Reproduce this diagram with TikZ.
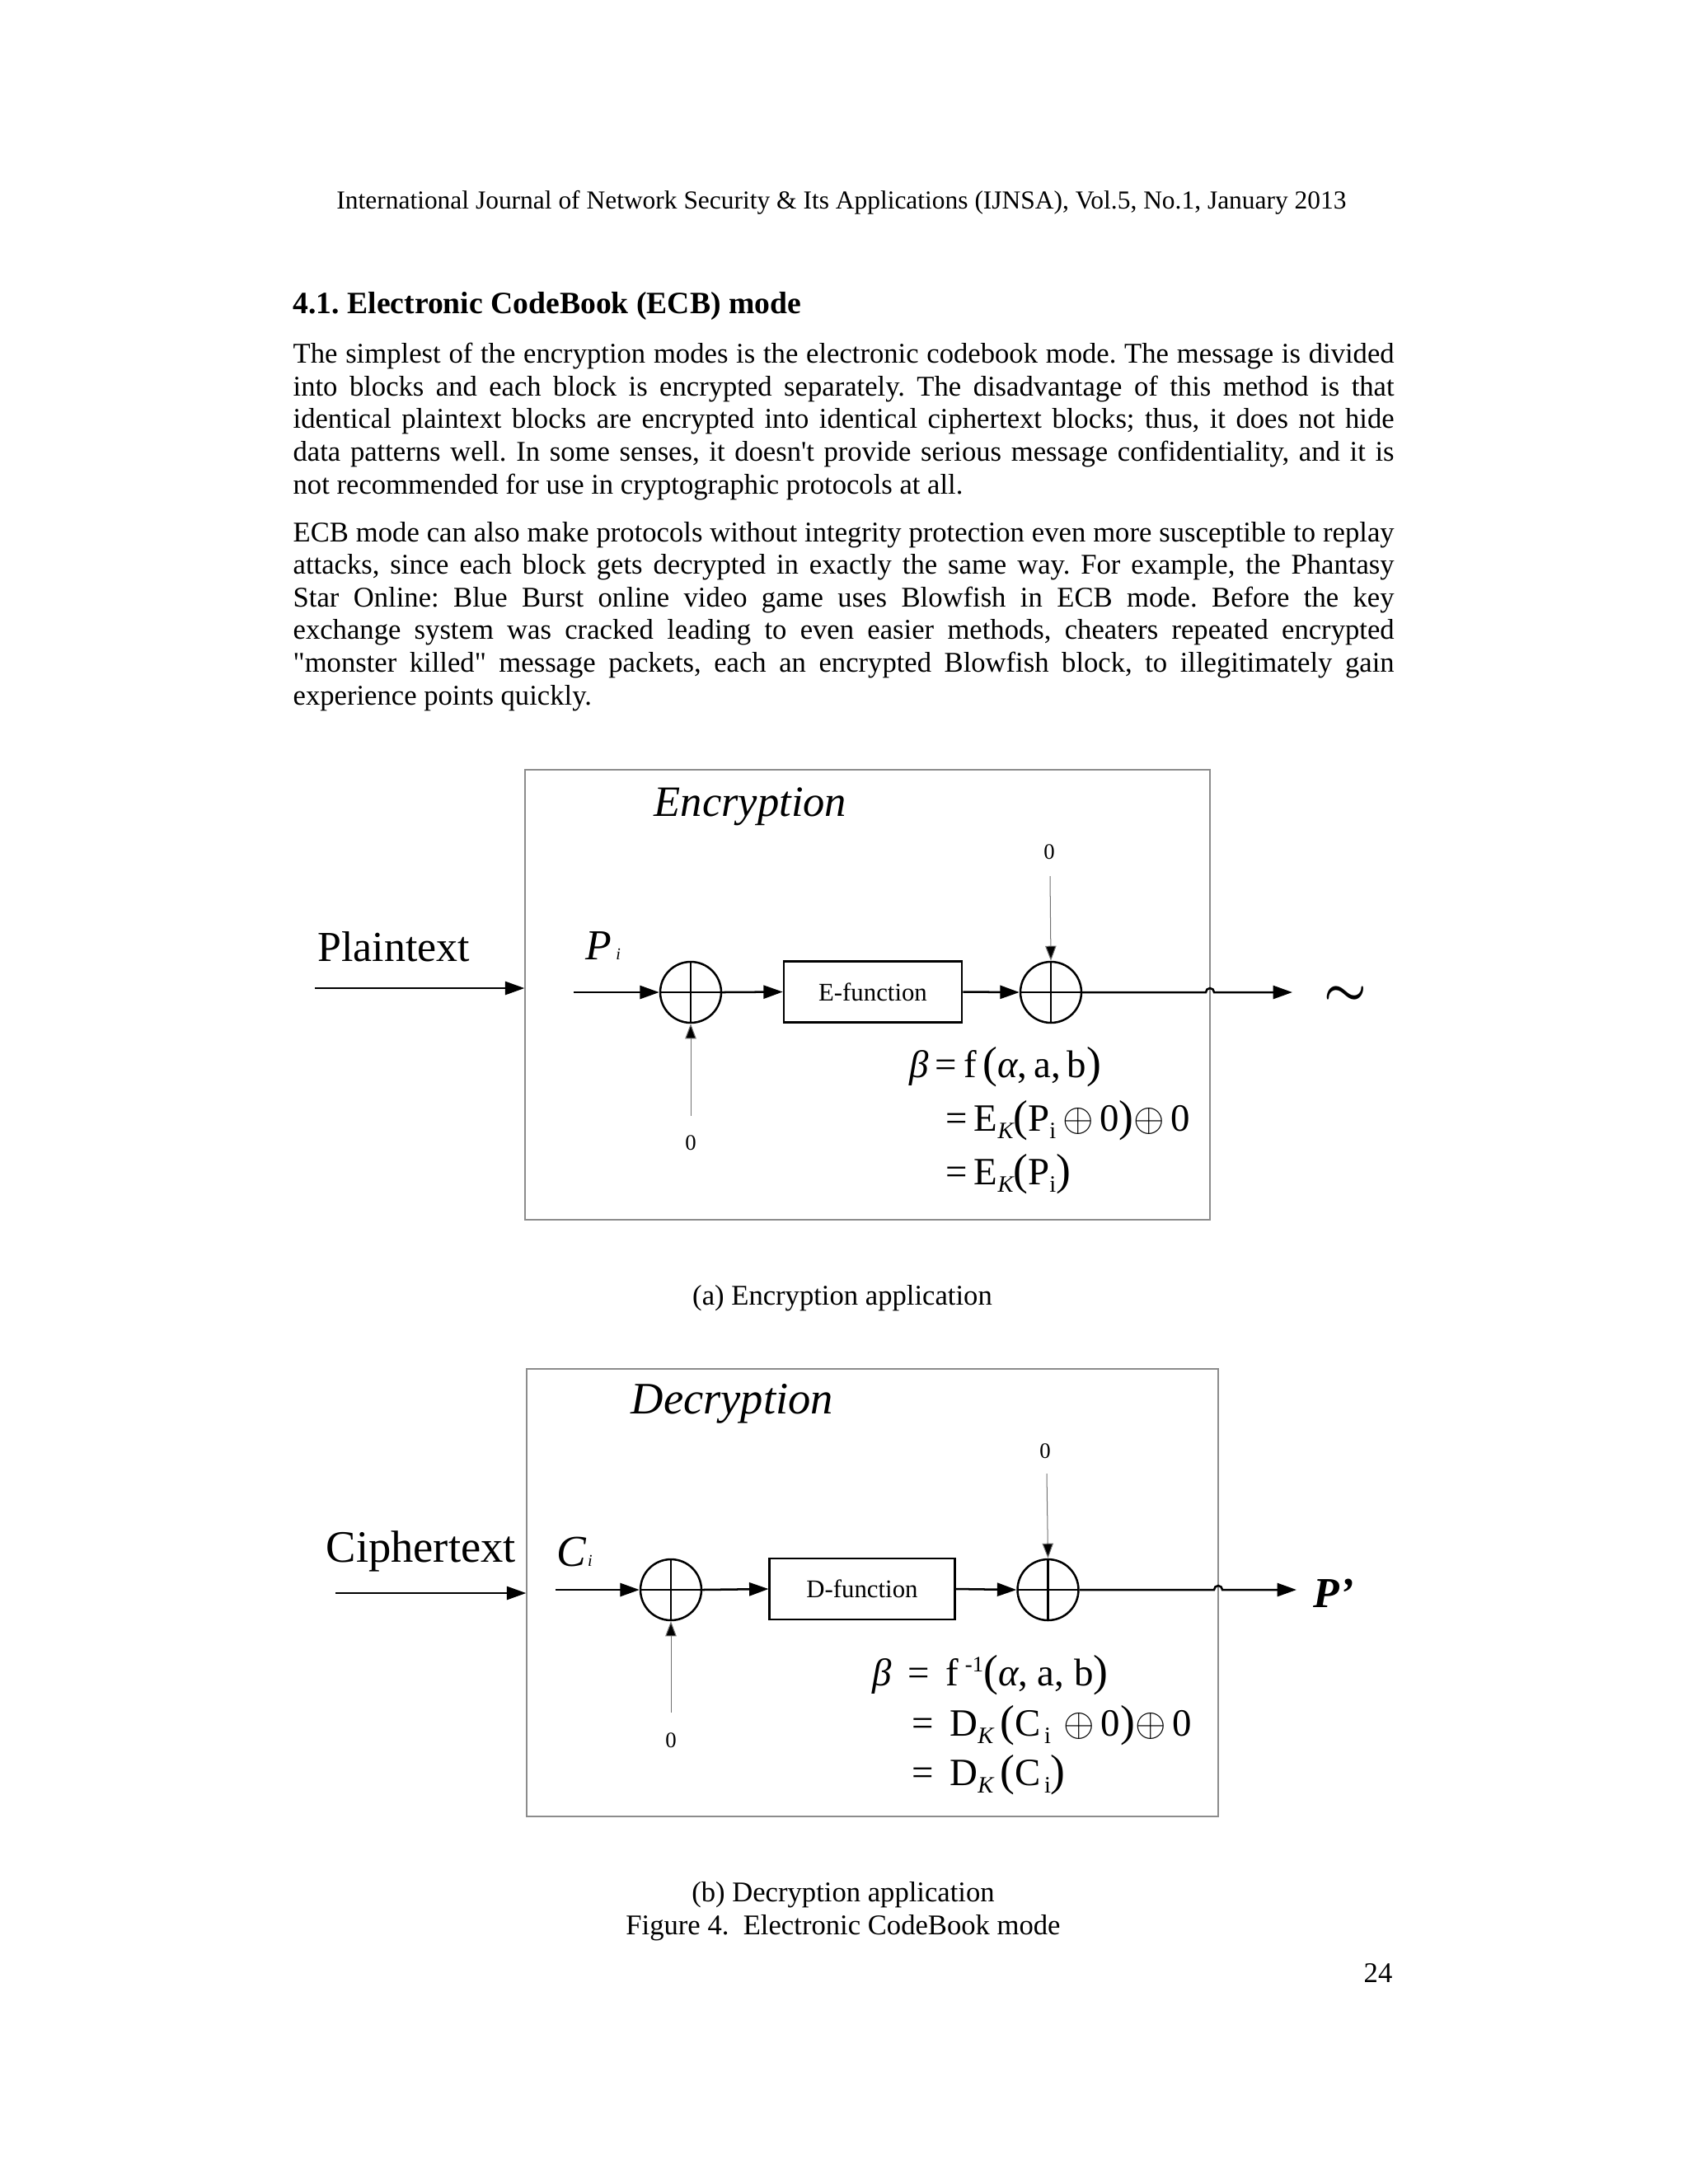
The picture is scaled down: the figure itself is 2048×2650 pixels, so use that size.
\documentclass[tikz,border=0pt]{standalone}
\usepackage{fontspec}
\setmainfont{Liberation Serif}[Ligatures=TeXOff]
\usetikzlibrary{arrows.meta,fit}
\frenchspacing
\newcommand\jline[1]{\makebox[399.2pt][s]{#1}}
\newcommand\lpar{{\fontsize{16pt}{16pt}\selectfont(}}
\newcommand\rpar{{\fontsize{16pt}{16pt}\selectfont)}}
\newcommand\subsc[1]{\raisebox{-2.8pt}{\fontsize{8.5pt}{8.5pt}\selectfont #1}}
\newcommand\apos{{\char"27}}
\newcommand\dquo{{\char"22}}
\tikzset{
  x=0.29883pt, y=-0.29883pt,
  body/.style={inner sep=0pt, anchor=base west, font=\fontsize{10.35pt}{11.5pt}\selectfont},
  frame/.style={draw=black!45, line width=0.4pt, inner sep=0pt},
  xorc/.style={circle, draw, line width=0.75pt, minimum size=22.1pt, inner sep=0pt,
    path picture={\draw[line width=0.75pt] (path picture bounding box.north) -- (path picture bounding box.south)
      (path picture bounding box.west) -- (path picture bounding box.east);}},
  funbox/.style={draw, line width=0.75pt, minimum height=22.1pt, inner sep=0pt, font=\fontsize{9.2pt}{10pt}\selectfont},
  mainln/.style={line width=0.75pt, -{Triangle[length=7pt,width=4.8pt]}},
  thinln/.style={line width=0.3pt, draw=black!55, -{Triangle[length=5.4pt,width=4pt,fill=black]}},
  zero/.style={inner sep=0pt, font=\fontsize{8pt}{9pt}\selectfont},
  big/.style={inner sep=0pt, anchor=base west, font=\fontsize{15.5pt}{17pt}\selectfont},
  ttl/.style={inner sep=0pt, anchor=base west, font=\fontsize{15.7pt}{17pt}\selectfont\itshape},
  frm/.style={inner sep=0pt, anchor=base west, font=\fontsize{14pt}{16pt}\selectfont},
  captxt/.style={inner sep=0pt, anchor=base, font=\fontsize{10.35pt}{11.5pt}\selectfont},
}
\begin{document}
\begin{tikzpicture}
\fill[white] (0,0) rectangle (2048,2650);
\useasboundingbox (0,0) rectangle (2048,2650);

% header and text
\node[inner sep=0pt, anchor=base, font=\fontsize{9.4pt}{11pt}\selectfont] (hdr) at (1021,253)
  {International Journal of Network Security \& Its Applications (IJNSA), Vol.5, No.1, January 2013};
\node[inner sep=0pt, anchor=base west, font=\fontsize{11.25pt}{13pt}\selectfont\bfseries] (sec) at (355,380)
  {4.1. Electronic CodeBook (ECB) mode};
\node[body] (l1) at (355,440.2) {\jline{The simplest of the encryption modes is the electronic codebook mode. The message is divided}};
\node[body] (l2) at (355,480) {\jline{into blocks and each block is encrypted separately. The disadvantage of this method is that}};
\node[body] (l3) at (355,519.8) {\jline{identical plaintext blocks are encrypted into identical ciphertext blocks; thus, it does not hide}};
\node[body] (l4) at (355,559.6) {\jline{data patterns well. In some senses, it doesn\apos t provide serious message confidentiality, and it is}};
\node[body] (l5) at (355,599.3) {not recommended for use in cryptographic protocols at all.};
\node[body] (l6) at (355,657.1) {\jline{ECB mode can also make protocols without integrity protection even more susceptible to replay}};
\node[body] (l7) at (355,696.7) {\jline{attacks, since each block gets decrypted in exactly the same way. For example, the Phantasy}};
\node[body] (l8) at (355,736.3) {\jline{Star Online: Blue Burst online video game uses Blowfish in ECB mode. Before the key}};
\node[body] (l9) at (355,775.9) {\jline{exchange system was cracked leading to even easier methods, cheaters repeated encrypted}};
\node[body] (l10) at (355,815.5) {\jline{\dquo monster killed\dquo{} message packets, each an encrypted Blowfish block, to illegitimately gain}};
\node[body] (l11) at (355,855.1) {experience points quickly.};

% ---------------- Encryption diagram ----------------
\node[frame, fit={(637,934) (1468,1480)}] (encbox) {};
\node[ttl] (enctitle) at (793,990) {Encryption};
\node[big] (plain) at (385,1166) {Plaintext};
\coordinate (plainstart) at (382,1199);
\draw[mainln] (plainstart) -- (plainstart -| encbox.west);
\node[big] (pi) at (710,1164) {\itshape P\hspace{1.5pt}\raisebox{0pt}{\fontsize{6pt}{6pt}\selectfont i}};
\coordinate (pin) at (696,1204);
\node[xorc] (x1) at (838,1204) {};
\node[funbox, minimum width=64.55pt] (efun) at (1059,1203.5) {E-function};
\node[xorc] (x2) at (1275,1204) {};
\draw[mainln] (pin) -- (x1.west);
\draw[mainln] (x1.east) -- (efun.west);
\draw[mainln] (efun.east) -- (x2.west);
\coordinate (encout) at (1568,1204);
\draw[mainln] (x2.east) -- (1463,1204) arc[start angle=180,end angle=0,radius=1.5pt] -- (encout);
\node[inner sep=0pt, font=\fontsize{17pt}{17pt}\selectfont\boldmath] (tilde) at (1632,1208) {$\sim$};
\node[zero] (ez1) at (1273,1034) {0};
\coordinate (ez1s) at (1274,1063);
\draw[thinln] (ez1s) -- (x2.north);
\node[zero] (ez2) at (838,1387) {0};
\coordinate (ez2s) at (838,1354);
\draw[thinln] (ez2s) -- (x1.south);
\node[frm] (ef1) at (1103,1307) {{\itshape β}\,=\,f\,\lpar{\itshape α},\,a,\,b\rpar};
\node[frm] (ef2) at (1147,1372) {=\,E\subsc{\itshape K}\lpar P\subsc{i}\,$\oplus$\,0\rpar$\oplus$\,0};
\node[frm] (ef3) at (1147,1437) {=\,E\subsc{\itshape K}\lpar P\subsc{i}\rpar};
\node[captxt] (capa) at (1022,1583) {(a) Encryption application};

% ---------------- Decryption diagram ----------------
\node[frame, fit={(639,1661) (1478,2204)}] (decbox) {};
\node[ttl, font=\fontsize{16.3pt}{17pt}\selectfont\itshape] (dectitle) at (765,1715) {Decryption};
\node[big, font=\fontsize{16.3pt}{17pt}\selectfont] (ciph) at (395,1895) {Ciphertext};
\coordinate (ciphstart) at (407,1933);
\draw[mainln] (ciphstart) -- (ciphstart -| decbox.west);
\node[big, font=\fontsize{16pt}{17pt}\selectfont] (ci) at (675,1900) {\itshape C\hspace{0.5pt}\raisebox{0pt}{\fontsize{6pt}{6pt}\selectfont i}};
\coordinate (cin) at (674,1929);
\node[xorc] (x3) at (814,1929) {};
\node[funbox, minimum width=67.1pt] (dfun) at (1046,1928) {D-function};
\node[xorc] (x4) at (1271.5,1929) {};
\draw[mainln] (cin) -- (x3.west);
\draw[mainln] (x3.east) -- (dfun.west);
\draw[mainln] (dfun.east) -- (x4.west);
\coordinate (decout) at (1573,1929);
\draw[mainln] (x4.east) -- (1473,1929) arc[start angle=180,end angle=0,radius=1.5pt] -- (decout);
\node[big, font=\fontsize{15.5pt}{17pt}\selectfont\bfseries\itshape] (pout) at (1593,1950) {P’};
\node[zero] (dz1) at (1268,1761) {0};
\coordinate (dz1s) at (1270,1788);
\draw[thinln] (dz1s) -- (x4.north);
\node[zero] (dz2) at (814,2112) {0};
\coordinate (dz2s) at (814,2078);
\draw[thinln] (dz2s) -- (x3.south);
\node[frm] (df1) at (1058,2045) {{\itshape β}\, = \,f\,\raisebox{5pt}{\fontsize{8pt}{8pt}\selectfont -1}\lpar{\itshape α}, a, b\rpar};
\node[frm] (df2) at (1106,2106) {= \,D\subsc{\itshape K}\,\lpar C\subsc{\,i}\,\,$\oplus$\,0\rpar$\oplus$\,0};
\node[frm] (df3) at (1106,2166) {= \,D\subsc{\itshape K}\,\lpar C\subsc{\,i}\rpar};
\node[captxt] (capb) at (1023,2307) {(b) Decryption application};
\node[captxt] (fig) at (1023,2347) {Figure 4.\ \ Electronic CodeBook mode};
\node[inner sep=0pt, anchor=base east, font=\fontsize{10.35pt}{11.5pt}\selectfont] (pgno) at (1690,2405) {24};
\end{tikzpicture}
\end{document}
